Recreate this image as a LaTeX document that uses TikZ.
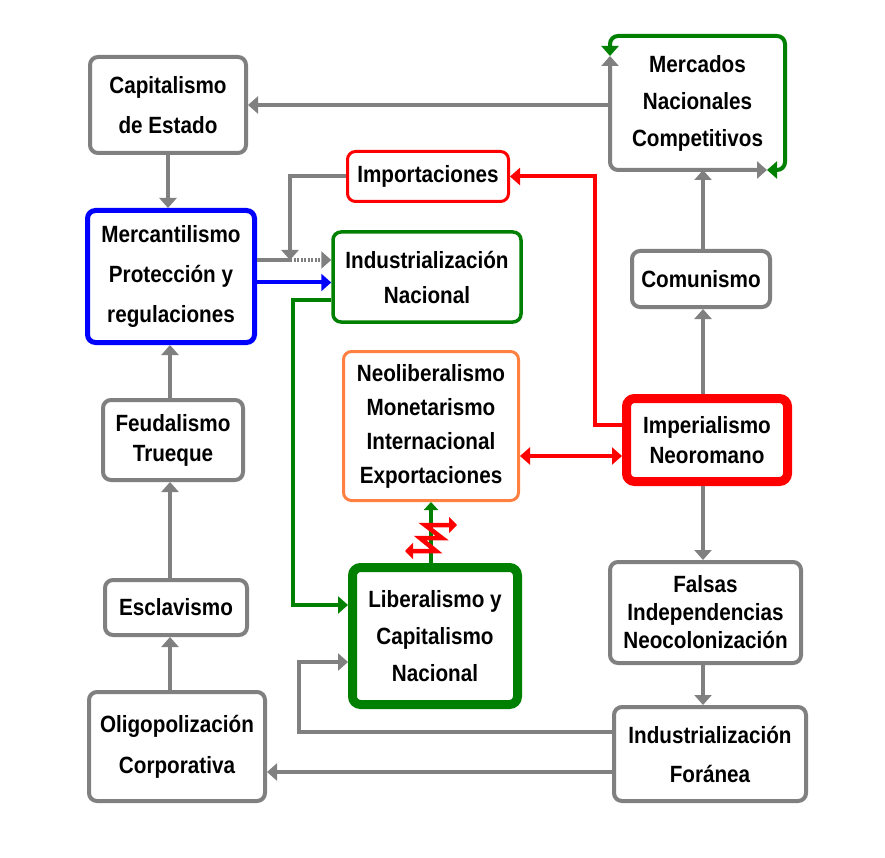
\documentclass[tikz,border=0pt]{standalone}
\usepackage{fontspec}
\setmainfont{Liberation Sans}[FakeStretch=0.88]
\usepackage{tikz}
\usetikzlibrary{arrows.meta}
\definecolor{gris}{RGB}{128,128,128}
\definecolor{verde}{RGB}{0,128,0}
\definecolor{naranja}{RGB}{255,128,64}

\begin{document}
\begin{tikzpicture}[x=1pt, y=-1pt,
        caja/.style={draw=gris, line width=4pt, rounded corners=8pt, fill=white,
            align=center, inner sep=0pt, font=\bfseries\fontsize{23.5}{#1}\selectfont},
        caja/.default=40,
        flecha/.style={line width=4pt, -{Triangle[length=10pt,width=17pt]}},
        dobleflecha/.style={line width=4pt, {Triangle[length=10pt,width=17pt]}-{Triangle[length=10pt,width=17pt]}},
        gl/.style={flecha, draw=gris},
        rl/.style={flecha, draw=red},
        vl/.style={flecha, draw=verde}]
    \useasboundingbox[fill=white] (0,0) rectangle (885,858);
    % columna izquierda
    \node[caja=40, minimum width=156pt, minimum height=96pt] (cap) at (168,105) {Capitalismo\\de Estado};
    \node[caja=40, draw=blue, line width=5pt, minimum width=167pt, minimum height=132pt] (mer) at (171,276.5) {Mercantilismo\\Protección y\\regulaciones};
    \node[caja=30, minimum width=140pt, minimum height=80pt] (feu) at (173,440) {Feudalismo\\Trueque};
    \node[caja, minimum width=142pt, minimum height=55pt] (esc) at (176,607.5) {Esclavismo};
    \node[caja=41, minimum width=176pt, minimum height=109pt] (oli) at (177,746.5) {Oligopolización\\Corporativa};
    % centro
    \node[caja, draw=red, line width=3pt, minimum width=161pt, minimum height=50pt] (imp) at (428,176.5) {Importaciones};
    \node[caja=35, draw=verde, line width=3.5pt, minimum width=188pt, minimum height=90pt] (ind) at (427,277) {Industrialización\\Nacional};
    \node[caja=34, draw=naranja, line width=3pt, minimum width=175pt, minimum height=149pt] (neo) at (431,426) {Neoliberalismo\\Monetarismo\\Internacional\\Exportaciones};
    \node[caja=37, draw=verde, line width=9pt, minimum width=165pt, minimum height=137pt] (lib) at (435,636) {Liberalismo y\\Capitalismo\\Nacional};
    % columna derecha
    \node[caja=37, draw=none, fill=none, minimum width=171pt, minimum height=130pt] (mcd) at (697.5,103) {Mercados\\Nacionales\\Competitivos};
    \node[caja, minimum width=138pt, minimum height=56pt] (com) at (701,279) {Comunismo};
    \node[caja=30, draw=red, line width=9pt, minimum width=161pt, minimum height=83pt] (impe) at (707,440) {Imperialismo\\Neoromano};
    \node[caja=28, minimum width=191pt, minimum height=101pt] (fal) at (705.5,612.5) {Falsas\\Independencias\\Neocolonización};
    \node[caja=39, minimum width=192pt, minimum height=94pt] (for) at (710,754) {Industrialización\\Foránea};

    % ciclo de mercados
    \draw[dobleflecha, draw=gris, rounded corners=8pt]
        ([yshift=-20pt]mcd.north west) -- (mcd.south west) -- ([xshift=-18pt]mcd.south east);
    \draw[dobleflecha, draw=verde, rounded corners=8pt]
        ([xshift=-18pt]mcd.south east) -- (mcd.south east) -- (mcd.north east)
        -- (mcd.north west) -- ([yshift=-20pt]mcd.north west);

    % flechas grises
    \draw[gl] (mcd.west |- cap.east) -- (cap.east);
    \draw[gl] (cap.south) -- (cap.south |- mer.north);
    \draw[gl] (feu.north -| 170,0) -- (mer.south -| 170,0);
    \draw[gl] (esc.north -| 170,0) -- (feu.south -| 170,0);
    \draw[gl] (oli.north -| 170,0) -- (esc.south -| 170,0);
    \draw[gl] (com.north -| 703,0) -- (mcd.south -| 703,0);
    \draw[gl] (impe.north -| 703,0) -- (com.south -| 703,0);
    \draw[gl] (impe.south -| 703,0) -- (fal.north -| 703,0);
    \draw[gl] (fal.south -| 703,0) -- (for.north -| 703,0);
    \draw[gl] ([yshift=-18pt]for.west) coordinate (f1) -- (oli.east |- f1);
    \draw[gl] ([yshift=22pt]for.west) -- ++(-313,0) |- ([yshift=-26pt]lib.west);

    % importaciones y mercantilismo
    \coordinate (j) at (290,260);
    \draw[gl] (imp.west) -| (j);
    \draw[line width=4pt, draw=gris] (mer.east |- j) -- (j);
    \draw[gl, dash pattern=on 2pt off 1.5pt] (j) -- (ind.west |- j);
    \draw[flecha, draw=blue] ([yshift=-6pt]mer.east) -- ([yshift=-6pt]mer.east -| ind.west);
    \draw[vl] ([yshift=-23pt]ind.west) -- ++(-38,0) |- ([yshift=31pt]lib.west);

    % imperialismo
    \draw[rl] ([yshift=15pt]impe.west) -- ++(-27,0) |- (imp.east);
    \draw[dobleflecha, draw=red] ([yshift=-30pt]neo.east) -- ([yshift=-30pt]neo.east -| impe.west);

    % zigzag
    \draw[vl, -{Triangle[length=8pt,width=14pt]}] (lib.north -| neo.south) -- (neo.south);
    \draw[draw=red, line width=4.5pt, {Triangle[length=8pt,width=16pt]}-{Triangle[length=8pt,width=16pt]}]
        (405,551) -- (436,551) -- (420,538) -- (442,538) -- (425,525) -- (457,525);
\end{tikzpicture}
\end{document}
